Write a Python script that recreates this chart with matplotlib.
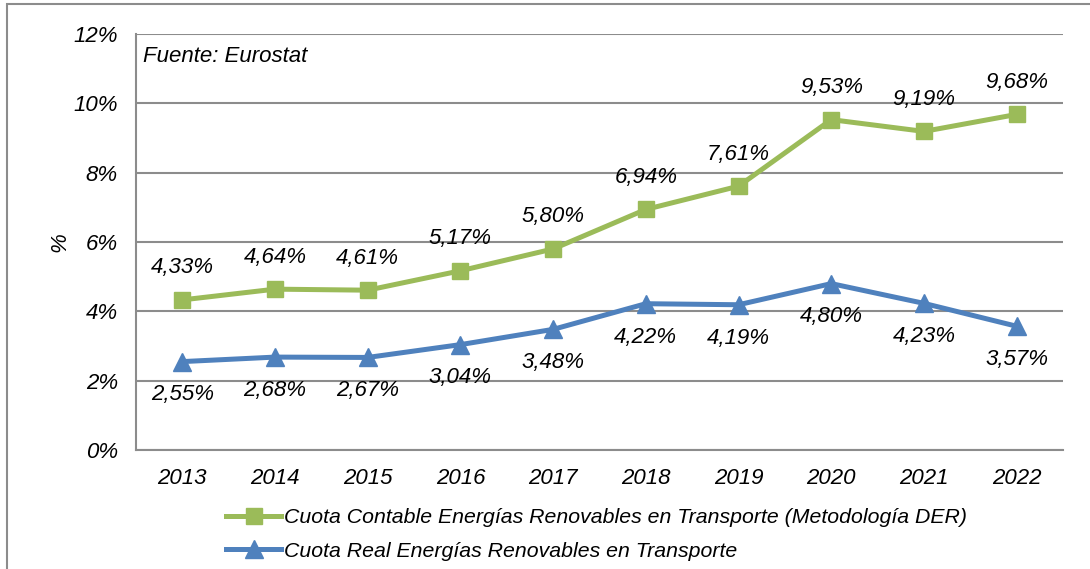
import matplotlib.pyplot as plt
from matplotlib.patches import Rectangle
import numpy as np

# DATA
years = ["2013", "2014", "2015", "2016", "2017", "2018", "2019", "2020", "2021", "2022"]
cuota_contable = [4.33, 4.64, 4.61, 5.17, 5.80, 6.94, 7.61, 9.53, 9.19, 9.68]
cuota_real = [2.55, 2.68, 2.67, 3.04, 3.48, 4.22, 4.19, 4.80, 4.23, 3.57]
y_ticks = [0, 2, 4, 6, 8, 10, 12]

label_contable = "Cuota Contable Energías Renovables en Transporte (Metodología DER)"
label_real = "Cuota Real Energías Renovables en Transporte"

# STYLING
GREEN = "#9BBB59"
BLUE = "#4F81BD"
GRID = "#8C8C8C"
FS = 16

plt.rcParams["font.family"] = ["Liberation Sans", "DejaVu Sans"]
plt.rcParams["font.style"] = "italic"

fig = plt.figure(figsize=(10.9, 5.69), dpi=100)
ax = fig.add_axes([136 / 1090, 1 - 450 / 569, (1063 - 136) / 1090, (450 - 34) / 569])

# outer frame (only top and left visible in the original)
fig.patches.append(Rectangle((7 / 1090, -0.1), 1.2, 1 - 4 / 569 + 0.1,
                             transform=fig.transFigure, fill=False,
                             edgecolor="#8C8C8C", linewidth=1.5))

x = np.arange(len(years))

ax.plot(x, cuota_contable, color=GREEN, linewidth=3.6, marker="s",
        markersize=11.5, label=label_contable)
ax.plot(x, cuota_real, color=BLUE, linewidth=3.6, marker="^",
        markersize=12.5, label=label_real)

for xi, v in zip(x, cuota_contable):
    ax.annotate(f"{v:.2f}%".replace(".", ","), (xi, v), xytext=(0, 23),
                textcoords="offset points", ha="center", va="center", fontsize=FS)
for xi, v in zip(x, cuota_real):
    ax.annotate(f"{v:.2f}%".replace(".", ","), (xi, v), xytext=(0, -24),
                textcoords="offset points", ha="center", va="center", fontsize=FS)

ax.set_xlim(-0.5, len(years) - 0.5)
ax.set_ylim(0, 12)
ax.set_yticks(y_ticks)
ax.set_yticklabels([f"{t}%" for t in y_ticks], fontsize=FS)
ax.set_xticks(x)
ax.set_xticklabels(years, fontsize=FS)
ax.tick_params(length=0)
ax.tick_params(axis="y", pad=13)
ax.tick_params(axis="x", pad=13)

ax.grid(axis="y", color=GRID, linewidth=1.5)
ax.set_axisbelow(True)
for side in ["top", "right"]:
    ax.spines[side].set_visible(False)
ax.spines["left"].set_color(GRID)
ax.spines["left"].set_linewidth(1.5)
ax.spines["bottom"].set_color(GRID)
ax.spines["bottom"].set_linewidth(1.5)

ax.set_ylabel("%", fontsize=FS, labelpad=2)

ax.text(0.008, 0.945, "Fuente: Eurostat", transform=ax.transAxes,
        fontsize=FS, ha="left", va="center")

fig.legend(loc="upper left", bbox_to_anchor=(226 / 1090, 1 - 508 / 569),
           frameon=False, fontsize=15.3, handlelength=2.6, handletextpad=0.15,
           labelspacing=0.7, borderaxespad=0, borderpad=0)

fig.savefig("out.png", dpi=100)
